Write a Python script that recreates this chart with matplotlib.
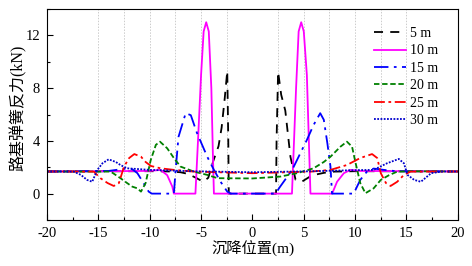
import matplotlib
matplotlib.use("Agg")
import matplotlib.pyplot as plt

plt.rcParams['font.family'] = ['Liberation Serif', 'Noto Sans CJK SC']
plt.rcParams['axes.unicode_minus'] = False

# settlement lengths (m)
lengths = [5, 10, 15, 20, 25, 30]
labels = ['5 m', '10 m', '15 m', '20 m', '25 m', '30 m']

# 5 m
x5 = [-20, -10, -8, -7, -6.3, -5.5, -4.8, -4.3, -3.8, -3.3, -3.0, -2.7, -2.45, -2.35, -2.3,
      2.3, 2.35, 2.5, 2.8, 3.2, 3.7, 4.2, 4.8, 5.6, 6.2, 7.0, 8.0, 10, 20]
y5 = [1.68, 1.7, 1.68, 1.62, 1.5, 1.2, 0.9, 1.2, 2.5, 3.6, 5.0, 7.2, 9.3, 4.0, 0,
      0, 4.0, 9.25, 7.5, 6.3, 2.8, 1.05, 0.9, 1.29, 1.45, 1.58, 1.67, 1.7, 1.68]

# 10 m
x10 = [-20, -10, -8.95, -8.3, -7.8, -7.65, -5.55, -5.3, -5.0, -4.75, -4.5, -4.25, -4.0, -3.85, -3.75,
       3.85, 4.0, 4.25, 4.5, 4.75, 5.0, 5.3, 5.65, 7.76, 8.24, 8.9, 9.55, 10.5, 20]
y10 = [1.68, 1.72, 1.8, 1.4, 0.53, 0, 0, 4.0, 9.0, 12.3, 13.0, 12.3, 8.0, 3.0, 0,
       0, 3.0, 8.0, 12.3, 13.0, 12.3, 9.0, 0, 0, 0.9, 1.55, 1.8, 1.72, 1.68]

# 15 m
x15 = [-20, -14, -12.5, -11.7, -11.2, -10.6, -10.1, -9.8, -7.65, -7.5, -7.2, -6.5, -6.0, -5.4, -4.4,
       -3.75, -3.1, -2.45, -2.1, 2.24, 2.7, 3.4, 3.87, 4.5, 5.3, 5.95, 6.6, 6.95, 7.3, 7.6, 7.75,
       9.86, 10.5, 11.15, 11.8, 12.8, 14, 20]
y15 = [1.68, 1.72, 1.88, 1.85, 1.55, 0.8, 0.15, 0, 0, 1.55, 4.3, 6.1, 5.95, 4.6, 2.8,
       1.8, 0.9, 0.15, 0, 0, 0.53, 1.29, 1.8, 2.8, 4.07, 5.2, 6.1, 5.6, 3.8, 2.05, 0,
       0, 1.04, 1.67, 1.9, 1.8, 1.7, 1.68]

# 20 m
x20 = [-20, -13.8, -12.85, -12.2, -11.7, -11.2, -10.85, -10.4, -9.9, -9.4, -9.0, -8.3, -7.65, -7.0,
       -5.7, -4.4, -3.4, 0, 2.7, 4.35, 5.95, 6.95, 7.6, 8.57, 9.2, 9.7, 10.05, 10.5, 11.0, 11.8,
       12.5, 13.3, 14.1, 15.5, 20]
y20 = [1.68, 1.67, 1.17, 0.8, 0.53, 0.4, 0.15, 0.8, 2.55, 3.7, 3.94, 3.44, 2.7, 2.05,
       1.67, 1.42, 1.17, 1.15, 1.29, 1.55, 1.92, 2.4, 2.8, 3.56, 3.94, 3.56, 2.3, 0.8, 0.03, 0.4,
       1.04, 1.4, 1.67, 1.7, 1.68]

# 25 m
x25 = [-20, -15.45, -14.8, -14.1, -13.5, -13.0, -12.5, -12.0, -11.5, -10.85, -10.4, -9.9, -8.95,
       -7.65, -5.7, 0, 5.7, 7.6, 9.2, 10.5, 11.65, 12.15, 12.5, 13.0, 13.45, 14.1, 14.75, 15.4, 20]
y25 = [1.68, 1.67, 1.17, 0.8, 0.58, 0.8, 2.05, 2.7, 3.0, 2.8, 2.4, 2.1, 1.92,
       1.8, 1.67, 1.55, 1.67, 1.8, 2.17, 2.7, 3.0, 2.7, 1.55, 0.8, 0.58, 0.9, 1.42, 1.67, 1.68]

# 30 m
x30 = [-20, -17.4, -16.7, -16.1, -15.6, -15.1, -14.6, -14.0, -13.3, -12.85, -12.2, -10, -6, 0,
       6, 10, 11.8, 13.1, 14.25, 14.75, 15.1, 15.75, 16.4, 17.0, 17.4, 18.5, 20]
y30 = [1.68, 1.67, 1.42, 1.04, 0.9, 1.8, 2.3, 2.6, 2.4, 2.17, 1.92, 1.8, 1.7, 1.62,
       1.7, 1.78, 1.8, 2.3, 2.63, 2.3, 1.42, 1.04, 0.9, 1.29, 1.55, 1.68, 1.68]

xs = [x5, x10, x15, x20, x25, x30]
ys = [y5, y10, y15, y20, y25, y30]
colors = ['black', '#FF00FF', '#0000FF', '#008000', '#FF0000', '#0000CD']
styles = [(0, (5, 4)), '-', (0, (8, 3, 1.5, 3)), (0, (3, 1.5)), (0, (6, 2, 1.5, 2)), (0, (1, 0.8))]

fig = plt.figure(figsize=(4.72, 2.66), dpi=100)
ax = fig.add_axes([0.0996, 0.173, 0.8704, 0.793])

for L in lengths:
    for s in (-1, 1):
        ax.axvline(s * L / 2, color='#cccccc', lw=0.7, ls=(0, (1.5, 1.5)), zorder=0)

for x, y, c, st, lab in zip(xs, ys, colors, styles, labels):
    ax.plot(x, y, color=c, ls=st, lw=1.3, label=lab)

ax.set_xlim(-20, 20)
ax.set_ylim(-2, 14)
ax.set_xticks(range(-20, 21, 5))
ax.set_xticks([v + 2.5 for v in range(-20, 20, 5)], minor=True)
ax.set_yticks([0, 4, 8, 12])
ax.set_yticks([-2, 2, 6, 10, 14], minor=True)
ax.tick_params(direction='in', labelsize=10.5, length=4, width=0.8, top=False, right=False, pad=5)
ax.tick_params(which='minor', direction='in', length=2, width=0.8, top=False, right=False)
for sp in ax.spines.values():
    sp.set_linewidth(0.8)

ax.set_xlabel('沉降位置(m)', fontsize=11)
ax.set_ylabel('路基弹簧反力(kN)', fontsize=11.5)
ax.xaxis.set_label_coords(0.501, -0.1)
ax.yaxis.set_label_coords(-0.05, 0.533)

ax.legend(loc='upper left', bbox_to_anchor=(0.796, 0.915), frameon=False, fontsize=10,
          handlelength=2.3, handletextpad=0.3, labelspacing=0.32, borderpad=0,
          borderaxespad=0)

fig.savefig('out.png', dpi=100)
